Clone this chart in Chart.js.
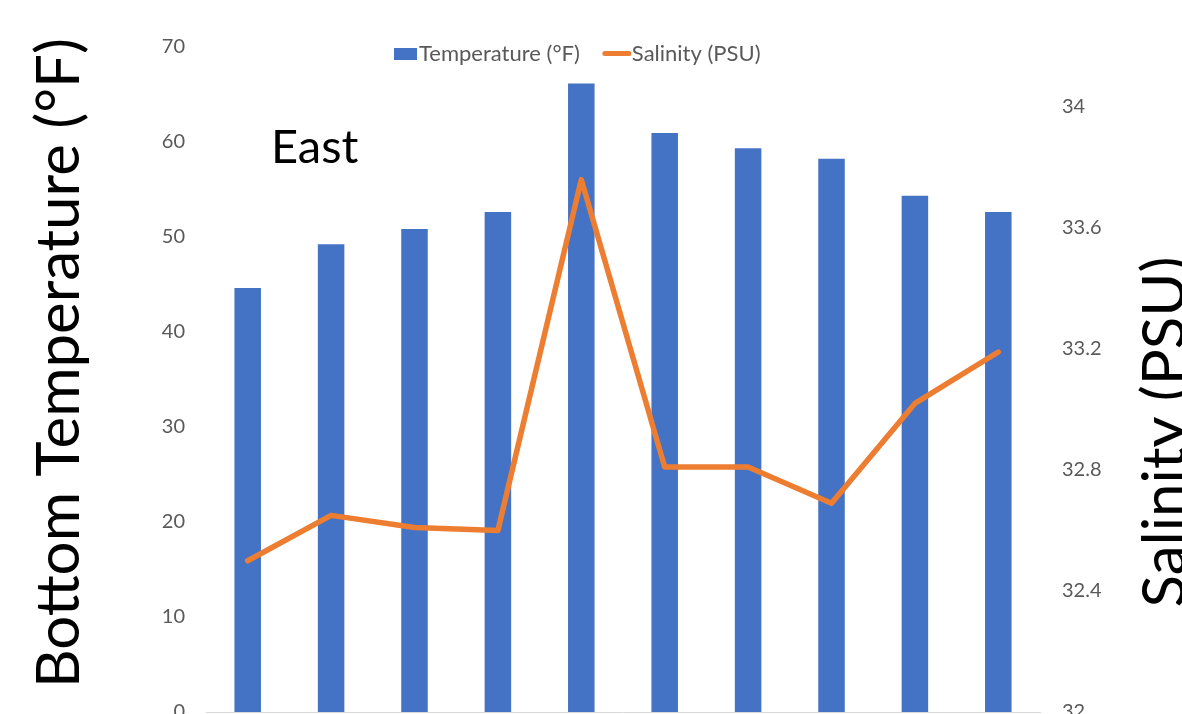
<!DOCTYPE html>
<html>
<head>
<meta charset="utf-8">
<script src="https://cdn.jsdelivr.net/npm/chart.js@4/dist/chart.umd.min.js"></script>
<style>
html,body{margin:0;padding:0;overflow:hidden;background:#fff;width:1182px;height:714px}
#c{position:absolute;left:0;top:0;width:1182px;height:746px}
</style>
</head>
<body>
<canvas id="c" width="1182" height="746"></canvas>
<script>
// ---- data ----
const categories = ['1', '2', '3', '4', '5', '6', '7', '8', '9', '10'];
const temperatureF = [44.6, 49.2, 50.8, 52.6, 66.1, 60.9, 59.3, 58.2, 54.3, 52.6];
const salinityPSU = [32.50, 32.65, 32.61, 32.60, 33.76, 32.81, 32.81, 32.69, 33.02, 33.19];
const temperatureTicks = [0, 10, 20, 30, 40, 50, 60, 70];
const salinityTicks = [32, 32.4, 32.8, 33.2, 33.6, 34];
const seriesNames = ['Temperature (°F)', 'Salinity (PSU)'];
const regionLabel = 'East';
const leftAxisTitle = 'Bottom Temperature (°F)';
const rightAxisTitle = 'Salinity (PSU)';

const FONT = 'Lato';
const TICK_COLOR = '#595959';

const overlay = {
  id: 'overlay',
  afterDraw(chart) {
    const ctx = chart.ctx;
    const ds = chart.data.datasets;
    ctx.save();
    // legend
    ctx.font = '22px ' + FONT;
    ctx.textBaseline = 'middle';
    let x = 394;
    const ly = 54;
    ctx.fillStyle = ds[0].backgroundColor;
    ctx.fillRect(x, ly - 6, 23, 12);
    x += 25;
    ctx.fillStyle = TICK_COLOR;
    ctx.fillText(ds[0].label, x, ly);
    x += ctx.measureText(ds[0].label).width + 23;
    ctx.strokeStyle = ds[1].borderColor;
    ctx.lineWidth = 5;
    ctx.lineCap = 'round';
    ctx.beginPath();
    ctx.moveTo(x + 2, ly - 0.5);
    ctx.lineTo(x + 26, ly - 0.5);
    ctx.stroke();
    x += 29;
    ctx.fillText(ds[1].label, x, ly);

    // region label
    ctx.fillStyle = '#000';
    ctx.font = '47px ' + FONT;
    ctx.textBaseline = 'alphabetic';
    ctx.textAlign = 'left';
    ctx.fillText(regionLabel, 271, 163);

    // axis titles
    ctx.font = '60px ' + FONT;
    ctx.textAlign = 'center';
    ctx.save();
    ctx.translate(79, 363);
    ctx.rotate(-Math.PI / 2);
    ctx.fillText(leftAxisTitle, 0, 0);
    ctx.restore();
    ctx.save();
    ctx.translate(1185, 432);
    ctx.rotate(-Math.PI / 2);
    ctx.fillText(rightAxisTitle, 0, 0);
    ctx.restore();
    ctx.restore();
  }
};

const fmt = v => String(+Number(v).toFixed(1));

new Chart(document.getElementById('c'), {
  type: 'bar',
  data: {
    labels: categories,
    datasets: [
      {
        type: 'bar',
        label: seriesNames[0],
        data: temperatureF,
        backgroundColor: '#4472C4',
        borderWidth: 0,
        categoryPercentage: 1,
        barPercentage: 0.318,
        yAxisID: 'y',
        order: 2
      },
      {
        type: 'line',
        label: seriesNames[1],
        data: salinityPSU,
        borderColor: '#ED7D31',
        backgroundColor: '#ED7D31',
        borderWidth: 5.5,
        pointRadius: 0,
        tension: 0,
        borderCapStyle: 'round',
        borderJoinStyle: 'round',
        yAxisID: 'y1',
        order: 1
      }
    ]
  },
  options: {
    responsive: false,
    maintainAspectRatio: false,
    devicePixelRatio: 1,
    animation: false,
    layout: { padding: { top: 46.5, bottom: 22, left: 0, right: 0 } },
    plugins: { legend: { display: false }, tooltip: { enabled: false } },
    scales: {
      x: {
        grid: { display: false, drawTicks: false },
        border: { display: true, color: '#d9d9d9', width: 1 },
        ticks: { display: false }
      },
      y: {
        position: 'left',
        min: temperatureTicks[0],
        max: temperatureTicks[temperatureTicks.length - 1],
        afterBuildTicks: s => { s.ticks = temperatureTicks.map(v => ({ value: v })); },
        afterFit: s => { s.width = 206; },
        grid: { display: false, drawTicks: false },
        border: { display: false },
        ticks: { padding: 21, color: TICK_COLOR, font: { family: FONT, size: 20 }, callback: fmt }
      },
      y1: {
        position: 'right',
        min: 32,
        max: 34.2,
        afterBuildTicks: s => { s.ticks = salinityTicks.map(v => ({ value: v })); },
        afterFit: s => { s.width = 142; },
        grid: { display: false, drawTicks: false },
        border: { display: false },
        ticks: { padding: 22, color: TICK_COLOR, font: { family: FONT, size: 20 }, callback: fmt }
      }
    }
  },
  plugins: [overlay]
});
</script>
</body>
</html>
